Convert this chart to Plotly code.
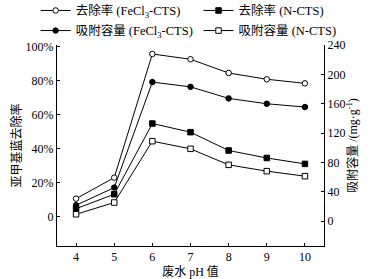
import plotly.graph_objects as go

ph = [4, 5, 6, 7, 8, 9, 10]
removal_fecl3 = [10.4, 22.8, 95.7, 92.6, 84.5, 80.8, 78.4]
removal_ncts = [4.5, 13.0, 54.7, 49.6, 38.8, 34.4, 30.9]
capacity_fecl3 = [21.8, 45.8, 189.5, 183.0, 167.3, 160.0, 155.5]
capacity_ncts = [9.5, 25.5, 109.0, 98.6, 76.8, 68.2, 61.4]

left_ticks = [0, 20, 40, 60, 80, 100]
left_labels = ["0", "20%", "40%", "60%", "80%", "100%"]
right_ticks = [0, 40, 80, 120, 160, 200, 240]

FONT = "Liberation Serif, Times New Roman, Noto Sans CJK SC, serif"

fig = go.Figure()

def add(y, name, symbol, filled, axis, legend):
    fig.add_trace(go.Scatter(
        x=ph, y=y, name=name, mode="lines+markers", yaxis=axis, legend=legend,
        line=dict(color="black", width=1),
        marker=dict(symbol=symbol, size=5.5, color="black" if filled else "white",
                    line=dict(color="black", width=1)),
    ))

add(removal_fecl3, "去除率 (FeCl<sub>3</sub>-CTS)", "circle", False, "y", "legend")
add(removal_ncts, "去除率 (N-CTS)", "square", True, "y", "legend2")
add(capacity_fecl3, "吸附容量 (FeCl<sub>3</sub>-CTS)", "circle", True, "y2", "legend3")
add(capacity_ncts, "吸附容量 (N-CTS)", "square", False, "y2", "legend4")

axis_common = dict(showgrid=False, zeroline=False, showline=True, linecolor="black",
                   linewidth=1, ticks="inside", ticklen=3, tickcolor="black",
                   tickfont=dict(family=FONT, size=12, color="black"))

def leg(x, y):
    return dict(orientation="h", x=x, y=y, xanchor="left", yanchor="middle",
                itemwidth=30, font=dict(size=12.5), bgcolor="rgba(0,0,0,0)",
                borderwidth=0, tracegroupgap=0)

fig.update_layout(
    width=375, height=279,
    margin=dict(l=57, r=51, t=45, b=33, autoexpand=False),
    paper_bgcolor="white", plot_bgcolor="white",
    font=dict(family=FONT, size=12, color="black"),
    xaxis=dict(range=[3.5, 10.5], tickvals=ph,
               title=dict(text="废水 pH 值", standoff=2, font=dict(size=12)),
               **axis_common),
    yaxis=dict(range=[-17.5, 101], tickvals=left_ticks, ticktext=left_labels,
               title=dict(text="亚甲基蓝去除率", standoff=1, font=dict(size=12)),
               **axis_common),
    yaxis2=dict(range=[-33.7, 240], tickvals=right_ticks, overlaying="y", side="right",
                title=dict(text="吸附容量 /(mg·g<sup>-1</sup>)", standoff=2, font=dict(size=12)),
                **axis_common),
    legend=leg(-0.08, 1.17),
    legend2=leg(0.53, 1.17),
    legend3=leg(-0.08, 1.07),
    legend4=leg(0.53, 1.07),
    showlegend=True,
)

fig.write_html("out.html", config={"displayModeBar": False},
               post_script="document.body.style.margin='0px';")
